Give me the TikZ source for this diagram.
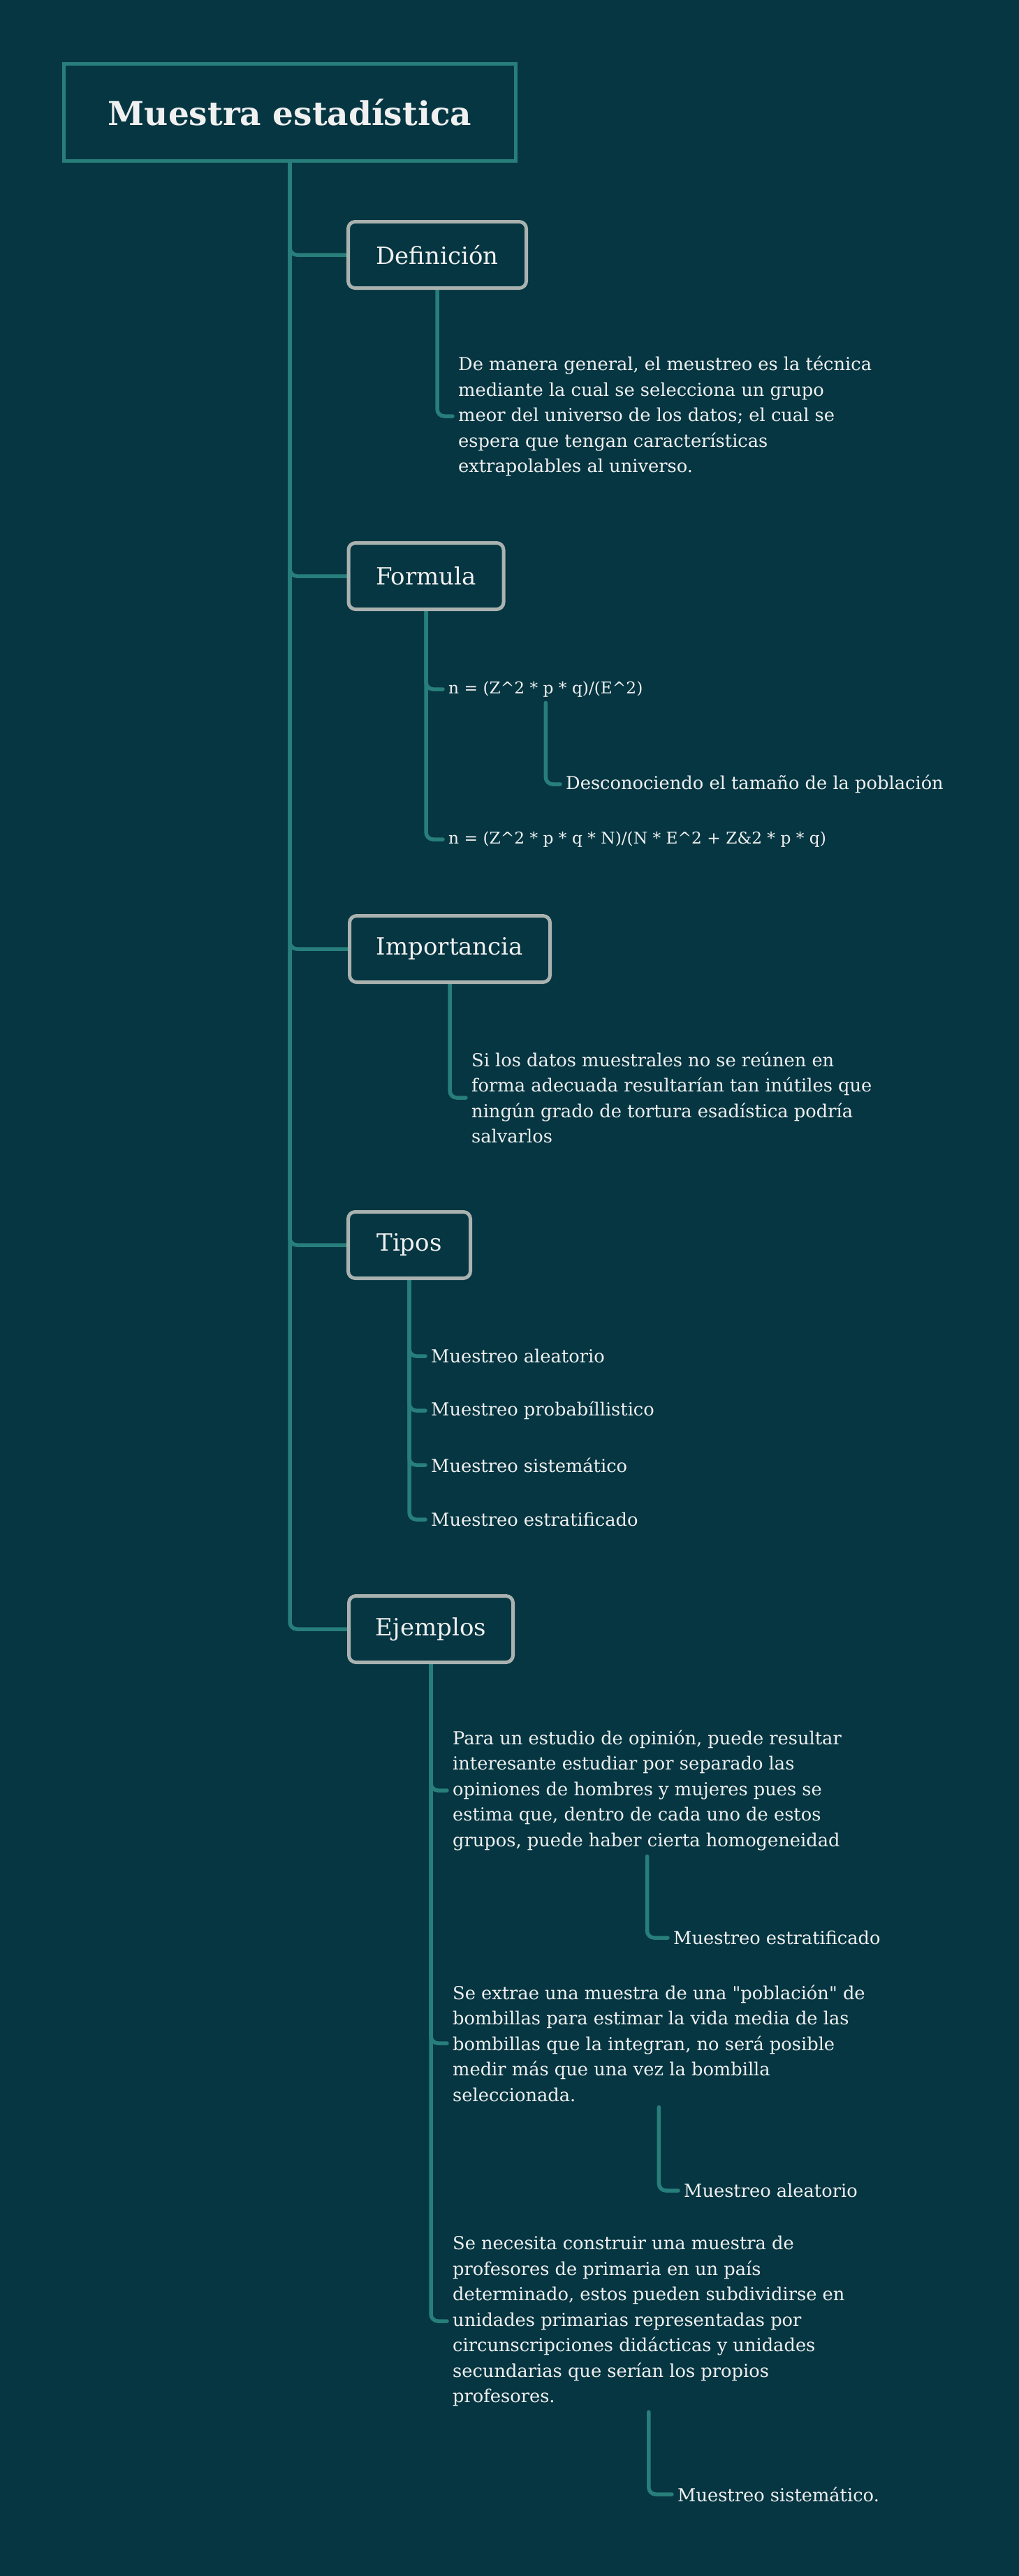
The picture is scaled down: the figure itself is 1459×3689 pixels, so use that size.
\documentclass[tikz,border=0pt]{standalone}
\usepackage{fontspec}
\setmainfont{DejaVu Serif}
\newfontfamily\plainquote{DejaVu Serif}
\usetikzlibrary{backgrounds}

\definecolor{mapbg}{RGB}{5,54,66}
\definecolor{mapline}{RGB}{39,126,122}
\definecolor{mapbox}{RGB}{170,178,176}
\definecolor{maptext}{RGB}{240,240,240}

\begin{document}
\begin{tikzpicture}[x=1pt,y=-1pt,text=maptext,
  root node/.style={draw=mapline,line width=5pt,fill=mapbg,minimum width=647pt,minimum height=139pt,font=\fontsize{47}{56}\selectfont\bfseries},
  main node/.style={draw=mapbox,line width=5pt,rounded corners=10pt,fill=mapbg,minimum height=95pt,inner xsep=10pt,font=\fontsize{34}{40}\selectfont},
  leaf node/.style={anchor=west,align=left,inner xsep=8pt,inner ysep=8pt,font=\fontsize{25.7}{36.5}\selectfont},
  formula/.style={leaf node,font=\fontsize{23.3}{30}\selectfont},
  branch/.style={color=mapline,line width=5.5pt,rounded corners=10pt,line cap=round},
  elbow/.style={to path={|- (\tikztotarget) \tikztonodes}}]

  \node[root node] (root) at (415,161) {Muestra estadística};

  \node[main node, minimum width=255pt] (def) at (626,365) {Definición};
  \node[leaf node] (defT) at (648,596) {De manera general, el meustreo es la técnica\\mediante la cual se selecciona un grupo\\meor del universo de los datos; el cual se\\espera que tengan características\\extrapolables al universo.};

  \node[main node, minimum width=222pt] (form) at (610,825) {Formula};
  \node[formula] (f1) at (634,987) {n = (Z\textasciicircum 2 * p * q)/(E\textasciicircum 2)};
  \node[leaf node] (f1a) at (802,1123) {Desconociendo el tamaño de la población};
  \node[formula] (f2) at (634,1202) {n = (Z\textasciicircum 2 * p * q * N)/(N * E\textasciicircum 2 + Z\&2 * p * q)};

  \node[main node, minimum width=287pt] (imp) at (644,1359) {Importancia};
  \node[leaf node] (impT) at (667,1572) {Si los datos muestrales no se reúnen en\\forma adecuada resultarían tan inútiles que\\ningún grado de tortura esadística podría\\salvarlos};

  \node[main node, minimum width=175pt] (tipos) at (586,1783) {Tipos};
  \node[leaf node] (t1) at (609,1942) {Muestreo aleatorio};
  \node[leaf node] (t2) at (609,2020) {Muestreo probabíllistico};
  \node[leaf node] (t3) at (609,2098) {Muestreo sistemático};
  \node[leaf node] (t4) at (609,2176) {Muestreo estratificado};

  \node[main node, minimum width=235pt] (ejem) at (617,2333) {Ejemplos};
  \node[leaf node] (e1) at (640,2564) {Para un estudio de opinión, puede resultar\\interesante estudiar por separado las\\opiniones de hombres y mujeres pues se\\estima que, dentro de cada uno de estos\\grupos, puede haber cierta homogeneidad};
  \node[leaf node] (e1a) at (956,2775) {Muestreo estratificado};
  \node[leaf node] (e2) at (640,2926) {Se extrae una muestra de una {\plainquote"}población{\plainquote"} de\\bombillas para estimar la vida media de las\\bombillas que la integran, no será posible\\medir más que una vez la bombilla\\seleccionada.};
  \node[leaf node] (e2a) at (971,3137) {Muestreo aleatorio};
  \node[leaf node] (e3) at (640,3324) {Se necesita construir una muestra de\\profesores de primaria en un país\\determinado, estos pueden subdividirse en\\unidades primarias representadas por\\circunscripciones didácticas y unidades\\secundarias que serían los propios\\profesores.};
  \node[leaf node] (e3a) at (962,3572) {Muestreo sistemático.};

  \begin{scope}[on background layer]
    \fill[mapbg] (0,0) rectangle (1459,3689);
    \path[branch]
      (root) edge[elbow] (def)
             edge[elbow] (form)
             edge[elbow] (imp)
             edge[elbow] (tipos)
             edge[elbow] (ejem)
      (def) edge[elbow] (defT)
      (form) edge[elbow] (f1)
             edge[elbow] (f2)
      (f1) edge[elbow] (f1a)
      (imp) edge[elbow] (impT)
      (tipos) edge[elbow] (t1)
              edge[elbow] (t2)
              edge[elbow] (t3)
              edge[elbow] (t4)
      (ejem) edge[elbow] (e1)
             edge[elbow] (e2)
             edge[elbow] (e3)
      (e1) edge[elbow] (e1a)
      (e2) edge[elbow] (e2a)
      (e3) edge[elbow] (e3a);
  \end{scope}
\end{tikzpicture}
\end{document}
